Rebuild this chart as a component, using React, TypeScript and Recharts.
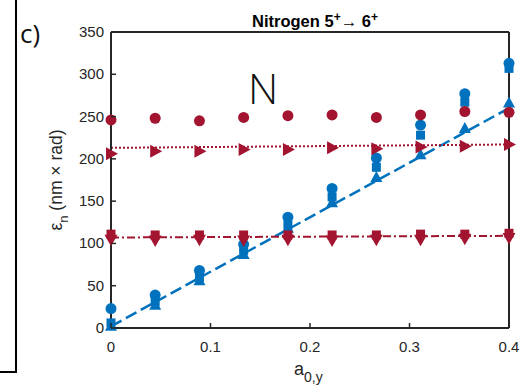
import { ComposedChart, XAxis, YAxis, Line, Scatter } from "recharts";

const aValues = [0, 0.0444, 0.0889, 0.1333, 0.1778, 0.2222, 0.2667, 0.3111, 0.3556, 0.4];

const blueCircle = [23, 39, 68, 99, 131, 165, 201, 240, 277, 313];
const blueSquare = [6, 31, 60, 92, 122, 155, 190, 228, 267, 307];
const blueTriangle = [2, 27, 56, 87, 118, 148, 178, 205, 236, 266];

const redCircle = [246, 248, 245, 249, 251, 252, 249, 252, 256, 255];
const redRight = [206, 209, 209, 211, 211, 213, 212, 214, 215, 217];
const redSquare = [111, 110, 110, 110, 110, 110, 110, 111, 111, 112];
const redDown = [105, 104, 105, 104, 105, 104, 105, 105, 106, 107];

const fitX = [0, 0.4];
const blueFit = [2, 260];
const redDotFit = [213, 217];
const redDashDotFit = [107, 109];

const xTicks = [0, 0.1, 0.2, 0.3, 0.4];
const yTicks = [0, 50, 100, 150, 200, 250, 300, 350];

const BLUE = "#0072BD";
const RED = "#A2142F";
const AXIS = "#262626";
const FONT = "'Liberation Sans', Arial, sans-serif";

const pts = (xs: number[], ys: number[]) => xs.map((x, i) => ({ x, y: ys[i] }));

const marker = (kind: string, color: string) => (props: any) => {
  const { cx, cy } = props;
  const s = 5.5;
  if (kind === "circle") return <circle cx={cx} cy={cy} r={s} fill={color} />;
  if (kind === "square")
    return <rect x={cx - 4.5} y={cy - 4.5} width={9} height={9} fill={color} />;
  if (kind === "up")
    return <polygon points={`${cx - 6},${cy + 4.5} ${cx + 6},${cy + 4.5} ${cx},${cy - 6.5}`} fill={color} />;
  if (kind === "down")
    return <polygon points={`${cx - 6.5},${cy - 4.5} ${cx + 6.5},${cy - 4.5} ${cx},${cy + 7}`} fill={color} />;
  return <polygon points={`${cx - 5},${cy - 6.5} ${cx - 5},${cy + 6.5} ${cx + 7},${cy}`} fill={color} />;
};

const BottomTick = ({ x, y, payload }: any) => (
  <g>
    <line x1={x} y1={y} x2={x} y2={y - 5} stroke={AXIS} strokeWidth={1.5} />
    <text x={x} y={y + 24} textAnchor="middle" fill={AXIS} fontSize={15} fontFamily={FONT}>
      {payload.value}
    </text>
  </g>
);

const TopTick = ({ x, y }: any) => (
  <line x1={x} y1={y} x2={x} y2={y + 5} stroke={AXIS} strokeWidth={1.5} />
);

const LeftTick = ({ x, y, payload }: any) => (
  <g>
    <line x1={x} y1={y} x2={x + 5} y2={y} stroke={AXIS} strokeWidth={1.5} />
    <text x={x - 7} y={y + 5} textAnchor="end" fill={AXIS} fontSize={15} fontFamily={FONT}>
      {payload.value}
    </text>
  </g>
);

const RightTick = ({ x, y }: any) => (
  <line x1={x} y1={y} x2={x - 5} y2={y} stroke={AXIS} strokeWidth={1.5} />
);

const axisLine = { stroke: AXIS, strokeWidth: 2 };

export default function App() {
  return (
    <div style={{ position: "absolute", left: 0, top: 0, width: 521, height: 386, background: "#fff" }}>
      <ComposedChart
        width={521}
        height={386}
        margin={{ top: 30, right: 10, bottom: 28, left: 71 }}
      >
        <XAxis
          dataKey="x"
          type="number"
          domain={[0, 0.4]}
          ticks={xTicks}
          height={30}
          tickSize={0}
          tickMargin={0}
          tickLine={false}
          axisLine={axisLine}
          tick={<BottomTick />}
        />
        <XAxis
          xAxisId="top"
          orientation="top"
          type="number"
          domain={[0, 0.4]}
          ticks={xTicks}
          height={2}
          tickSize={0}
          tickMargin={0}
          tickLine={false}
          axisLine={axisLine}
          tick={<TopTick />}
        />
        <YAxis
          type="number"
          domain={[0, 350]}
          ticks={yTicks}
          width={40}
          tickSize={0}
          tickMargin={0}
          tickLine={false}
          axisLine={axisLine}
          tick={<LeftTick />}
        />
        <YAxis
          yAxisId="right"
          orientation="right"
          type="number"
          domain={[0, 350]}
          ticks={yTicks}
          width={2}
          tickSize={0}
          tickMargin={0}
          tickLine={false}
          axisLine={axisLine}
          tick={<RightTick />}
        />
        <Scatter data={pts(aValues, blueSquare)} dataKey="y" shape={marker("square", BLUE)} isAnimationActive={false} />
        <Scatter data={pts(aValues, blueCircle)} dataKey="y" shape={marker("circle", BLUE)} isAnimationActive={false} />
        <Scatter data={pts(aValues, blueTriangle)} dataKey="y" shape={marker("up", BLUE)} isAnimationActive={false} />
        <Line
          data={pts(fitX, blueFit)}
          dataKey="y"
          type="linear"
          stroke={BLUE}
          strokeWidth={2.5}
          strokeDasharray="12 5"
          dot={false}
          isAnimationActive={false}
        />
        <Scatter data={pts(aValues, redSquare)} dataKey="y" shape={marker("square", RED)} isAnimationActive={false} />
        <Scatter data={pts(aValues, redDown)} dataKey="y" shape={marker("down", RED)} isAnimationActive={false} />
        <Scatter data={pts(aValues, redRight)} dataKey="y" shape={marker("right", RED)} isAnimationActive={false} />
        <Line
          data={pts(fitX, redDotFit)}
          dataKey="y"
          type="linear"
          stroke={RED}
          strokeWidth={2}
          strokeDasharray="2 2"
          dot={false}
          isAnimationActive={false}
        />
        <Line
          data={pts(fitX, redDashDotFit)}
          dataKey="y"
          type="linear"
          stroke={RED}
          strokeWidth={2}
          strokeDasharray="8 3 2 3"
          dot={false}
          isAnimationActive={false}
        />
        <Scatter data={pts(aValues, redCircle)} dataKey="y" shape={marker("circle", RED)} isAnimationActive={false} />
      </ComposedChart>
      <svg
        width={521}
        height={386}
        style={{ position: "absolute", left: 0, top: 0, pointerEvents: "none" }}
      >
        <polyline points="16,0 16,372 0,372" fill="none" stroke="#000" strokeWidth={2} />
        <text x={20} y={43} fontSize={26} fontFamily="'Open Sans', sans-serif" fill="#111">
          c)
        </text>
        <text x={248} y={104} fontSize={42} fontWeight={300} fontFamily="'Open Sans', sans-serif" fill="#111">
          N
        </text>
        <text x={315} y={27} textAnchor="middle" fontSize={16.5} fontWeight="bold" fontFamily={FONT} fill="#000">
          Nitrogen 5<tspan dy={-6} fontSize={12}>+</tspan>
          <tspan dy={6} fontWeight="normal">→</tspan>
          <tspan> 6</tspan>
          <tspan dy={-6} fontSize={12}>+</tspan>
        </text>
        <text x={294} y={375} fontSize={18} fontFamily={FONT} fill={AXIS}>
          a<tspan dy={7} fontSize={14}>0,y</tspan>
        </text>
        <text
          transform="translate(62,180) rotate(-90)"
          textAnchor="middle"
          fontSize={17.5}
          fontFamily={FONT}
          fill={AXIS}
        >
          ε<tspan dy={6} fontSize={13}>n</tspan>
          <tspan dy={-6}> (nm × rad)</tspan>
        </text>
      </svg>
    </div>
  );
}
